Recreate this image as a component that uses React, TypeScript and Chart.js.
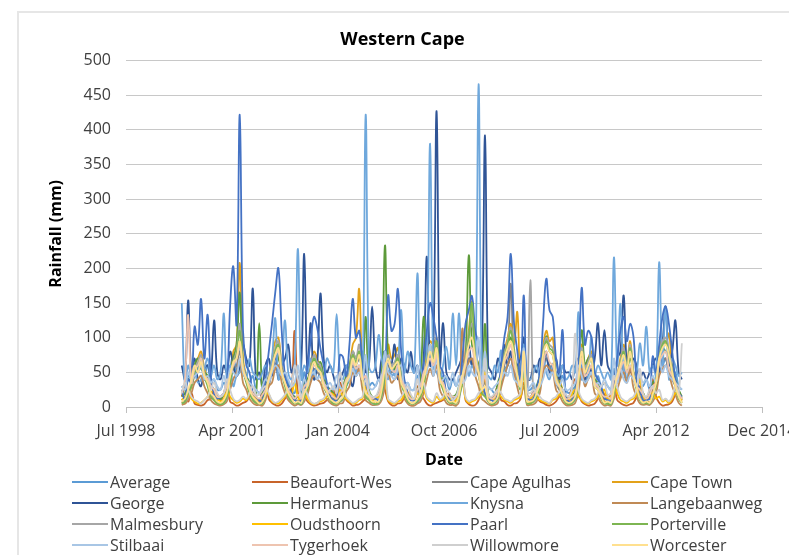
import React, { useEffect, useRef } from "react";
import { Chart, registerables } from "chart.js";
Chart.register(...registerables);

const YEARS = [2000, 2001, 2002, 2003, 2004, 2005, 2006, 2007, 2008, 2009, 2010, 2011, 2012];
const X_TICK_LABELS = ["Jul 1998", "Apr 2001", "Jan 2004", "Oct 2006", "Jul 2009", "Apr 2012", "Dec 2014"];
const X_MIN = 36000; // Excel serial of first tick
const X_STEP = 1000;

const average = [
  30, 25, 45, 40, 50, 55, 70, 45, 60, 35, 40, 25,
  25, 35, 30, 55, 75, 50, 95, 50, 40, 35, 45, 25,
  20, 15, 35, 40, 55, 70, 75, 45, 50, 35, 25, 20,
  45, 20, 50, 30, 50, 45, 40, 50, 35, 30, 25, 20,
  30, 35, 25, 30, 40, 60, 45, 55, 35, 65, 30, 35,
  30, 40, 30, 35, 70, 45, 50, 60, 50, 30, 35, 25,
  25, 45, 30, 35, 65, 75, 55, 90, 40, 45, 40, 25,
  40, 30, 40, 30, 50, 70, 60, 55, 90, 35, 75, 30,
  25, 20, 30, 35, 55, 60, 80, 45, 40, 30, 75, 25,
  25, 30, 25, 30, 50, 70, 55, 60, 40, 35, 45, 25,
  20, 25, 30, 45, 60, 35, 45, 50, 30, 45, 30, 35,
  30, 25, 55, 35, 50, 60, 40, 55, 45, 35, 35, 30,
  40, 25, 40, 30, 65, 60, 70, 50, 45, 50, 30, 25,
];
const beaufortWes = [
  15, 30, 8, 20, 5, 3, 2, 4, 10, 12, 25, 18,
  10, 20, 35, 8, 5, 2, 3, 6, 8, 15, 20, 12,
  8, 25, 40, 12, 6, 3, 2, 5, 12, 18, 22, 110,
  20, 10, 15, 8, 4, 2, 3, 5, 6, 10, 15, 25,
  12, 35, 20, 10, 6, 2, 3, 4, 8, 12, 18, 10,
  15, 20, 40, 25, 8, 3, 2, 5, 6, 14, 20, 12,
  10, 30, 18, 12, 5, 2, 4, 6, 8, 10, 15, 20,
  8, 12, 25, 60, 10, 4, 2, 3, 10, 22, 40, 15,
  12, 18, 30, 10, 8, 3, 2, 5, 6, 12, 35, 18,
  10, 25, 15, 8, 6, 3, 2, 4, 8, 15, 20, 12,
  15, 30, 40, 20, 8, 4, 2, 3, 5, 12, 25, 18,
  12, 20, 35, 10, 6, 3, 2, 4, 6, 15, 30, 20,
  10, 25, 40, 15, 6, 2, 3, 4, 8, 18, 22, 12,
];
const capeAgulhas = [
  10, 15, 25, 30, 45, 50, 60, 40, 35, 20, 15, 10,
  12, 10, 20, 35, 55, 60, 80, 50, 40, 25, 20, 15,
  8, 12, 20, 30, 50, 60, 70, 55, 35, 20, 15, 10,
  15, 10, 25, 30, 40, 55, 50, 45, 30, 20, 15, 12,
  10, 15, 20, 35, 45, 60, 55, 50, 35, 30, 20, 10,
  12, 10, 25, 40, 60, 50, 55, 60, 40, 25, 15, 10,
  10, 20, 25, 35, 55, 65, 60, 70, 40, 30, 20, 12,
  15, 12, 20, 40, 50, 70, 65, 55, 45, 30, 35, 15,
  10, 12, 20, 35, 60, 75, 178, 60, 40, 30, 50, 15,
  12, 15, 20, 30, 55, 70, 60, 55, 35, 25, 20, 10,
  10, 12, 25, 35, 50, 45, 50, 55, 30, 25, 20, 12,
  15, 10, 30, 35, 45, 60, 50, 55, 40, 30, 20, 15,
  12, 15, 25, 30, 55, 65, 70, 50, 40, 30, 20, 10,
];
const capeTown = [
  8, 5, 15, 30, 60, 70, 80, 55, 40, 20, 10, 6,
  5, 10, 20, 35, 80, 90, 208, 70, 45, 25, 15, 8,
  6, 8, 15, 40, 70, 95, 100, 60, 40, 20, 12, 5,
  10, 6, 20, 30, 60, 80, 70, 55, 35, 25, 10, 8,
  5, 8, 12, 35, 55, 90, 100, 170, 45, 20, 15, 6,
  8, 5, 20, 40, 90, 70, 75, 85, 40, 25, 10, 6,
  5, 10, 15, 35, 75, 95, 90, 100, 50, 30, 15, 8,
  6, 8, 20, 40, 70, 110, 152, 80, 60, 25, 20, 10,
  5, 6, 15, 45, 80, 100, 120, 90, 137, 30, 60, 8,
  6, 8, 20, 35, 85, 110, 95, 100, 45, 40, 25, 10,
  5, 8, 15, 40, 90, 60, 70, 80, 35, 30, 20, 8,
  8, 6, 25, 45, 70, 90, 65, 95, 50, 30, 15, 6,
  10, 6, 20, 35, 80, 100, 90, 106, 55, 35, 15, 8,
];
const george = [
  60, 40, 154, 50, 70, 40, 30, 55, 60, 45, 125, 50,
  40, 60, 50, 80, 60, 45, 55, 90, 70, 60, 171, 40,
  50, 30, 60, 70, 45, 80, 40, 60, 70, 90, 50, 60,
  40, 60, 221, 50, 121, 40, 60, 164, 70, 50, 60, 45,
  30, 40, 50, 60, 45, 30, 60, 70, 80, 50, 60, 145,
  60, 40, 70, 80, 50, 60, 90, 40, 70, 60, 50, 80,
  50, 60, 40, 70, 217, 60, 80, 427, 60, 121, 50, 40,
  40, 50, 60, 70, 50, 90, 60, 80, 50, 70, 392, 60,
  50, 40, 70, 60, 90, 60, 80, 50, 60, 70, 100, 40,
  40, 60, 50, 70, 60, 80, 50, 60, 70, 40, 60, 50,
  50, 40, 60, 70, 50, 40, 60, 50, 70, 121, 60, 111,
  60, 50, 40, 70, 80, 161, 60, 50, 70, 60, 40, 50,
  40, 50, 60, 70, 50, 90, 145, 60, 80, 125, 50, 40,
];
const hermanus = [
  15, 20, 40, 35, 60, 70, 55, 50, 45, 30, 25, 15,
  12, 18, 30, 50, 70, 90, 165, 60, 45, 35, 20, 15,
  121, 15, 30, 45, 65, 80, 70, 55, 40, 30, 20, 15,
  15, 12, 35, 40, 55, 70, 60, 65, 45, 30, 25, 20,
  10, 20, 30, 45, 60, 80, 70, 75, 50, 130, 25, 15,
  15, 20, 40, 233, 70, 60, 55, 75, 50, 35, 20, 15,
  12, 25, 35, 130, 65, 85, 70, 90, 45, 40, 20, 15,
  15, 18, 30, 40, 70, 219, 90, 75, 60, 35, 120, 20,
  12, 15, 35, 50, 80, 90, 100, 70, 55, 40, 80, 15,
  15, 20, 30, 45, 70, 102, 80, 75, 45, 35, 25, 15,
  10, 15, 25, 50, 111, 60, 70, 75, 40, 35, 25, 15,
  15, 12, 40, 45, 60, 80, 55, 70, 50, 35, 25, 20,
  12, 18, 35, 40, 75, 85, 80, 70, 60, 40, 25, 15,
];
const knysna = [
  150, 30, 60, 45, 50, 35, 40, 55, 70, 45, 60, 40,
  50, 135, 40, 60, 30, 45, 50, 60, 40, 70, 50, 45,
  40, 50, 60, 45, 70, 128, 40, 60, 125, 50, 40, 60,
  228, 40, 60, 50, 70, 45, 60, 50, 40, 70, 60, 50,
  134, 50, 40, 60, 45, 70, 50, 60, 40, 422, 60, 50,
  60, 104, 70, 50, 40, 60, 45, 60, 140, 50, 80, 60,
  50, 193, 60, 45, 70, 380, 60, 50, 40, 60, 87, 55,
  135, 60, 135, 50, 70, 45, 60, 50, 466, 60, 50, 45,
  40, 60, 50, 82, 45, 60, 70, 50, 40, 60, 90, 50,
  40, 50, 60, 45, 70, 50, 40, 60, 50, 45, 60, 40,
  45, 60, 50, 137, 40, 60, 50, 102, 45, 60, 50, 40,
  50, 40, 216, 60, 149, 50, 40, 60, 45, 50, 92, 60,
  116, 50, 60, 45, 209, 60, 145, 40, 70, 60, 45, 50,
];
const langebaanweg = [
  3, 5, 10, 20, 35, 40, 45, 30, 20, 10, 5, 3,
  2, 4, 8, 25, 40, 50, 70, 35, 25, 12, 6, 3,
  3, 2, 10, 30, 35, 55, 60, 35, 20, 10, 5, 2,
  4, 3, 8, 18, 35, 45, 40, 35, 20, 12, 6, 3,
  2, 5, 6, 22, 30, 50, 45, 55, 25, 10, 6, 3,
  3, 4, 10, 30, 50, 35, 40, 45, 22, 12, 5, 2,
  2, 5, 8, 20, 40, 55, 45, 60, 25, 15, 6, 3,
  3, 2, 8, 113, 45, 65, 70, 45, 30, 12, 8, 4,
  2, 3, 6, 28, 45, 60, 70, 50, 28, 15, 30, 3,
  3, 4, 8, 20, 50, 60, 55, 50, 25, 18, 8, 3,
  2, 3, 6, 22, 55, 30, 40, 45, 20, 15, 6, 2,
  3, 2, 12, 25, 40, 50, 35, 55, 28, 15, 5, 3,
  4, 3, 8, 18, 45, 55, 60, 48, 30, 18, 6, 2,
];
const malmesbury = [
  5, 8, 15, 35, 55, 65, 75, 50, 35, 18, 10, 5,
  4, 6, 12, 40, 65, 80, 120, 60, 40, 22, 12, 6,
  5, 5, 18, 45, 60, 85, 95, 55, 35, 18, 10, 5,
  6, 4, 12, 30, 55, 75, 65, 60, 35, 22, 12, 6,
  5, 8, 10, 35, 50, 80, 70, 90, 45, 18, 12, 5,
  4, 6, 15, 50, 75, 60, 65, 75, 40, 22, 10, 5,
  5, 8, 12, 35, 65, 90, 75, 100, 45, 28, 14, 6,
  6, 5, 12, 40, 70, 105, 120, 75, 55, 22, 18, 8,
  4, 6, 10, 45, 75, 95, 115, 85, 50, 28, 55, 6,
  183, 8, 12, 35, 80, 100, 90, 85, 45, 32, 15, 6,
  4, 6, 10, 40, 85, 55, 65, 75, 35, 28, 12, 5,
  5, 4, 18, 45, 65, 85, 60, 90, 50, 28, 10, 5,
  6, 5, 12, 35, 75, 95, 100, 80, 55, 32, 12, 6,
];
const oudsthoorn = [
  10, 15, 20, 12, 8, 5, 6, 10, 15, 20, 25, 12,
  8, 12, 25, 15, 10, 6, 8, 12, 10, 18, 20, 10,
  12, 8, 20, 18, 8, 6, 5, 10, 15, 22, 18, 35,
  15, 10, 18, 12, 6, 4, 6, 8, 10, 15, 20, 18,
  10, 25, 15, 12, 8, 5, 6, 10, 12, 30, 15, 10,
  12, 15, 30, 40, 10, 6, 5, 8, 10, 18, 22, 12,
  10, 20, 15, 25, 12, 8, 6, 15, 10, 12, 18, 15,
  8, 10, 20, 35, 12, 6, 8, 10, 15, 20, 50, 12,
  10, 12, 18, 15, 10, 8, 6, 10, 12, 15, 45, 15,
  12, 18, 15, 10, 8, 6, 5, 10, 12, 18, 15, 10,
  10, 20, 25, 15, 10, 6, 5, 8, 10, 15, 20, 25,
  12, 15, 30, 20, 10, 8, 6, 10, 12, 18, 40, 15,
  10, 18, 20, 12, 15, 8, 10, 6, 12, 20, 15, 10,
];
const paarl = [
  25, 10, 40, 35, 116, 90, 156, 70, 133, 45, 18, 12,
  15, 20, 30, 145, 203, 120, 422, 110, 60, 50, 20, 15,
  10, 8, 40, 80, 120, 165, 200, 110, 45, 30, 20, 10,
  8, 10, 25, 60, 95, 130, 115, 85, 60, 35, 15, 10,
  10, 75, 72, 45, 90, 156, 100, 110, 60, 35, 20, 12,
  12, 10, 20, 50, 161, 110, 120, 170, 80, 40, 20, 10,
  10, 8, 25, 60, 110, 150, 130, 100, 60, 50, 20, 10,
  10, 15, 20, 70, 120, 140, 160, 110, 90, 40, 20, 12,
  10, 8, 20, 60, 100, 130, 221, 120, 80, 40, 161, 15,
  10, 12, 25, 50, 120, 185, 140, 130, 70, 50, 111, 15,
  8, 10, 20, 60, 172, 90, 110, 100, 50, 40, 30, 12,
  10, 8, 30, 70, 110, 130, 95, 120, 102, 40, 25, 10,
  10, 12, 73, 50, 90, 130, 145, 120, 80, 40, 20, 15,
];
const porterville = [
  5, 8, 20, 30, 50, 60, 70, 45, 30, 15, 10, 5,
  4, 6, 15, 35, 60, 75, 110, 55, 35, 20, 10, 6,
  5, 5, 20, 40, 55, 80, 90, 50, 30, 15, 8, 5,
  6, 4, 15, 25, 50, 70, 60, 55, 30, 20, 10, 5,
  5, 8, 12, 30, 45, 75, 65, 80, 40, 15, 10, 6,
  4, 6, 18, 45, 70, 55, 60, 70, 35, 20, 8, 5,
  5, 8, 15, 30, 60, 85, 70, 95, 40, 25, 12, 6,
  6, 5, 15, 35, 65, 100, 150, 70, 50, 20, 15, 8,
  4, 6, 12, 40, 70, 90, 110, 80, 45, 25, 50, 6,
  5, 8, 15, 30, 75, 95, 85, 80, 40, 30, 15, 6,
  4, 6, 12, 35, 80, 50, 60, 70, 30, 25, 12, 5,
  5, 4, 20, 40, 60, 80, 55, 85, 45, 25, 10, 5,
  6, 5, 15, 30, 70, 90, 95, 75, 50, 30, 12, 6,
];
const stilbaai = [
  30, 25, 50, 40, 45, 50, 60, 40, 45, 35, 40, 30,
  25, 45, 30, 55, 50, 45, 70, 50, 40, 35, 30, 25,
  20, 30, 40, 35, 50, 60, 55, 45, 50, 40, 30, 35,
  60, 25, 40, 30, 45, 50, 40, 45, 35, 30, 35, 25,
  45, 30, 25, 35, 40, 55, 45, 50, 40, 75, 30, 25,
  30, 40, 35, 80, 50, 45, 40, 55, 60, 30, 35, 25,
  25, 60, 30, 45, 50, 90, 45, 70, 35, 40, 45, 30,
  50, 30, 45, 35, 40, 60, 50, 45, 100, 35, 80, 30,
  25, 30, 35, 40, 50, 45, 60, 40, 35, 30, 85, 25,
  30, 35, 25, 30, 40, 55, 45, 50, 35, 30, 40, 25,
  25, 30, 35, 60, 45, 35, 40, 50, 30, 35, 30, 40,
  30, 25, 70, 35, 55, 40, 35, 45, 40, 30, 45, 35,
  40, 30, 45, 35, 70, 50, 60, 45, 40, 35, 30, 25,
];
const tygerhoek = [
  20, 40, 133, 35, 55, 60, 70, 45, 40, 30, 25, 15,
  15, 20, 30, 45, 60, 70, 90, 55, 40, 30, 20, 15,
  12, 18, 25, 40, 55, 75, 80, 50, 35, 25, 18, 12,
  18, 12, 30, 35, 50, 60, 55, 50, 35, 25, 20, 15,
  12, 20, 25, 40, 45, 65, 55, 60, 40, 45, 20, 12,
  15, 18, 35, 60, 65, 55, 50, 60, 40, 30, 18, 12,
  12, 25, 30, 50, 60, 70, 60, 75, 40, 35, 20, 15,
  15, 15, 25, 40, 60, 80, 85, 60, 50, 30, 45, 18,
  12, 15, 25, 45, 65, 75, 90, 60, 45, 30, 70, 15,
  15, 20, 25, 35, 60, 80, 65, 60, 40, 30, 25, 12,
  12, 15, 20, 45, 70, 45, 50, 60, 35, 30, 20, 15,
  15, 12, 40, 40, 55, 65, 50, 60, 45, 30, 25, 18,
  12, 18, 30, 35, 65, 75, 80, 55, 45, 35, 20, 12,
];
const willowmore = [
  20, 35, 25, 15, 10, 8, 5, 10, 15, 25, 35, 20,
  15, 20, 40, 25, 12, 8, 10, 15, 12, 20, 30, 18,
  18, 25, 30, 20, 10, 6, 8, 12, 18, 25, 30, 60,
  40, 15, 25, 18, 8, 5, 6, 10, 12, 20, 25, 30,
  20, 50, 30, 15, 10, 6, 8, 12, 15, 40, 20, 15,
  15, 25, 45, 60, 12, 8, 6, 10, 15, 22, 30, 18,
  12, 40, 20, 35, 15, 10, 8, 20, 12, 15, 25, 20,
  10, 15, 30, 45, 15, 8, 10, 12, 20, 25, 70, 18,
  15, 20, 25, 20, 12, 10, 8, 12, 15, 20, 60, 22,
  20, 25, 20, 15, 10, 8, 6, 12, 15, 22, 25, 18,
  15, 30, 106, 25, 12, 8, 6, 10, 12, 20, 30, 35,
  18, 20, 45, 30, 15, 10, 8, 12, 15, 25, 55, 20,
  15, 25, 30, 20, 25, 10, 12, 8, 15, 30, 20, 92,
];
const worcester = [
  8, 12, 25, 40, 60, 50, 65, 45, 35, 20, 15, 8,
  6, 10, 20, 45, 65, 70, 95, 55, 40, 25, 15, 10,
  5, 8, 18, 40, 55, 75, 85, 50, 35, 20, 12, 6,
  8, 6, 20, 30, 50, 65, 55, 50, 30, 22, 12, 8,
  6, 10, 15, 35, 45, 70, 60, 75, 40, 20, 15, 8,
  8, 8, 25, 55, 70, 55, 60, 65, 35, 25, 12, 6,
  6, 12, 20, 40, 60, 80, 65, 85, 40, 30, 15, 8,
  8, 6, 18, 45, 65, 90, 100, 70, 50, 25, 30, 10,
  6, 8, 15, 45, 70, 85, 95, 75, 45, 30, 80, 8,
  8, 10, 20, 35, 75, 90, 80, 75, 40, 30, 18, 8,
  6, 8, 15, 40, 80, 50, 60, 70, 30, 25, 15, 6,
  8, 6, 25, 45, 60, 75, 55, 80, 45, 28, 12, 6,
  8, 6, 18, 35, 70, 85, 90, 75, 50, 30, 15, 6,
];

const SERIES_NAMES = [
  "Average", "Beaufort-Wes", "Cape Agulhas", "Cape Town",
  "George", "Hermanus", "Knysna", "Langebaanweg",
  "Malmesbury", "Oudsthoorn", "Paarl", "Porterville",
  "Stilbaai", "Tygerhoek", "Willowmore", "Worcester",
];
const SERIES_VALUES = [
  average, beaufortWes, capeAgulhas, capeTown,
  george, hermanus, knysna, langebaanweg,
  malmesbury, oudsthoorn, paarl, porterville,
  stilbaai, tygerhoek, willowmore, worcester,
];
const SERIES_COLORS = [
  "#5B9BD5", "#C8642A", "#858585", "#E3A21A",
  "#2F5496", "#5D9A3A", "#6FA8DC", "#C08A55",
  "#A6A6A6", "#FFC000", "#4472C4", "#7DB552",
  "#A8C6E5", "#EEC4B0", "#CFCFCF", "#FFE08F",
];

// Excel serial dates for the first of each month
const MONTH_SERIALS: number[] = [];
YEARS.forEach((y) => {
  for (let m = 0; m < 12; m++) {
    MONTH_SERIALS.push((Date.UTC(y, m, 1) - Date.UTC(1899, 11, 30)) / 86400000);
  }
});

const FONT = "'Open Sans', 'DejaVu Sans', sans-serif";
const TEXT = "#404040";

export default function App() {
  const ref = useRef<HTMLCanvasElement | null>(null);

  useEffect(() => {
    if (!ref.current) return;
    const datasets = SERIES_NAMES.map((name, i) => ({
      label: name,
      data: SERIES_VALUES[i].map((v, k) => ({ x: MONTH_SERIALS[k], y: v })),
      borderColor: SERIES_COLORS[i],
      backgroundColor: SERIES_COLORS[i],
      borderWidth: 1.8,
      pointRadius: 0,
      tension: 0.4,
      fill: false,
      order: SERIES_NAMES.length - i,
    }));
    const chart = new Chart(ref.current, {
      type: "line",
      data: { datasets },
      options: {
        animation: false,
        responsive: false,
        events: [],
        layout: { padding: { left: 43, right: 27, top: 0, bottom: 81 } },
        plugins: {
          legend: { display: false },
          tooltip: { enabled: false },
          title: {
            display: true,
            text: "Western Cape",
            color: "#000",
            font: { family: FONT, size: 18, weight: "bold" },
            padding: { top: 29, bottom: 10 },
          },
        },
        scales: {
          x: {
            type: "linear",
            min: X_MIN,
            max: X_MIN + X_STEP * (X_TICK_LABELS.length - 1),
            afterBuildTicks: (scale: any) => {
              scale.ticks = X_TICK_LABELS.map((_, i) => ({ value: X_MIN + i * X_STEP }));
            },
            afterFit: (scale: any) => {
              scale.height = 67;
              scale.paddingLeft = 0;
              scale.paddingRight = 0;
            },
            ticks: {
              autoSkip: false,
              maxRotation: 0,
              minRotation: 0,
              padding: 9,
              color: TEXT,
              font: { family: FONT, size: 16 },
              callback: (v: any) => X_TICK_LABELS[Math.round((Number(v) - X_MIN) / X_STEP)] ?? "",
            },
            grid: { drawOnChartArea: false, drawTicks: true, tickLength: 6, color: "#BFBFBF" },
            border: { display: true, color: "#BFBFBF", width: 1 },
            title: {
              display: true,
              text: "Date",
              color: "#000",
              font: { family: FONT, size: 16, weight: "bold" },
              padding: { top: 4, bottom: 4 },
            },
          },
          y: {
            min: 0,
            max: 500,
            afterFit: (scale: any) => {
              scale.width = 83;
              scale.paddingTop = 0;
              scale.paddingBottom = 0;
            },
            ticks: {
              stepSize: 50,
              padding: 15,
              color: TEXT,
              font: { family: FONT, size: 16 },
            },
            grid: { color: "#C8C8C8", drawTicks: false, lineWidth: 1 },
            border: { display: false },
            title: {
              display: true,
              text: "Rainfall (mm)",
              color: "#000",
              font: { family: FONT, size: 16, weight: "bold" },
              padding: { top: 4, bottom: 4 },
            },
          },
        },
      },
    } as any);
    return () => chart.destroy();
  }, []);

  const colX = [72, 252, 432, 612];
  const rowY = [481.5, 502.5, 523.5, 544.5];

  return (
    <div style={{ position: "absolute", left: 0, top: 0, width: 789, height: 555, overflow: "hidden", background: "#fff" }}>
      <div style={{ position: "absolute", left: 17, top: 11, width: 800, height: 600, borderTop: "2px solid #E6E6E6", borderLeft: "2px solid #E6E6E6" }} />
      <canvas ref={ref} width={789} height={555} style={{ position: "absolute", left: 0, top: 0, width: 789, height: 555 }} />
      {SERIES_NAMES.map((name, i) => {
        const c = i % 4;
        const r = Math.floor(i / 4);
        return (
          <div key={name} style={{ position: "absolute", left: colX[c], top: rowY[r] - 11, height: 22, display: "flex", alignItems: "center", fontFamily: FONT, fontSize: 16, color: TEXT, whiteSpace: "nowrap" }}>
            <span style={{ display: "inline-block", width: 36, height: 2, background: SERIES_COLORS[i], marginRight: 2 }} />
            <span>{name}</span>
          </div>
        );
      })}
    </div>
  );
}
